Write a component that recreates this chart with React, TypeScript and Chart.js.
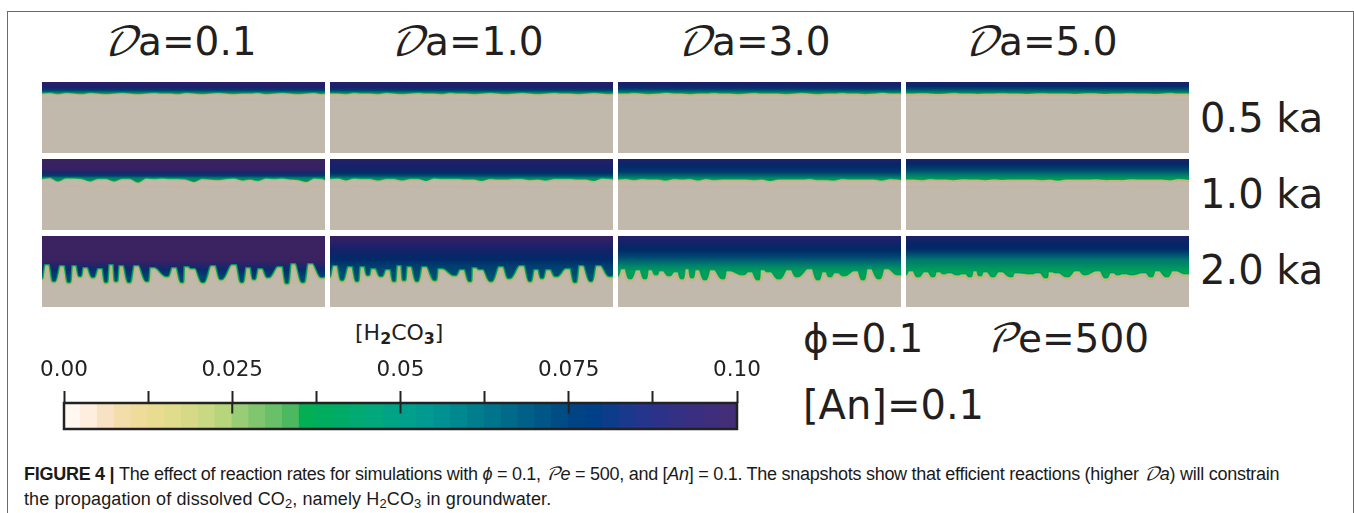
import React, { useEffect, useRef } from "react";
import { Chart, registerables } from "chart.js";

Chart.register(...registerables);

// ---------- front depth profiles (depth below panel top) ----------
const earlyX = [0,8,16,24,32,40,48,56,64,72,80,88,96,104,112,120,128,136,144,152,160,168,176,184,192,200,208,216,224,232,240,248,256,264,272,280,283];

const front05Da01 = [10.5,10,11,10,10.5,11,10,10.5,11,10.5,10,10.5,11,10.5,10,10.5,10.5,11,10,10.5,11,10.5,10,10.5,11,10.5,10.5,10,11,10.5,10,10.5,11,10.5,10,11,10.5];
const front05Da10 = [10.5,10.5,11,10,10.5,10.5,11,10,10.5,11,10.5,10,10.5,10.5,11,10,10.5,10.5,11,10.5,10,10.5,11,10.5,10,10.5,11,10.5,10,10.5,10.5,11,10.5,10,10.5,11,10.5];
const front05Da30 = [10.5,10.5,10,10.5,11,10.5,9.8,10.5,10.5,11,10.5,10.5,10,10.5,10.5,11,10.5,10,10.5,10.5,10.5,11,10.5,10,10.5,11,10.5,10.5,10,10.5,10.5,11,10.5,9.8,10.5,10.5,10.5];
const front05Da50 = [10.5,10.5,10.2,10.5,10.8,10.5,10,10.5,10.5,10.8,10.5,10.5,10.2,10.5,10.5,10.8,10.5,10.2,10.5,10.5,10.5,10.8,10.5,10.2,10.5,10.8,10.5,10.5,10.2,10.5,10.5,10.8,10.5,10,10.5,10.5,10.5];

const front10Da01 = [19,18,21.5,18.5,18.5,19,21.5,19,19,21.5,19,19,22.5,18.5,19,18.5,19,19,19.5,22,19,19.5,20,19,18.5,20.5,19.5,21,18.5,19,18.5,19.5,20,22,18.5,19,20];
const front10Da10 = [19,18.5,20.5,18.5,19,19,20.5,19,19,20.5,19,19,21,18.5,19,19,19,19.5,19.5,21,19,19.5,19.5,19,19,20,19.5,20.5,19,19,19,19.5,19.5,21,18.5,19,19.5];
const front10Da30 = [19.5,19,20,19,19.5,19.5,20.5,19,19.5,19,20.5,19,20,19.5,19.5,19.5,19.5,20,19.5,21,19.5,19.5,19.5,19.5,19,20,20,20.5,19,19.5,19.5,19.5,19.5,20.5,19,19.5,20];
const front10Da50 = [19.5,19.5,20,19,19.5,19.5,20,19.2,19.5,19.5,20,19.2,19.8,19.5,19.5,19.5,19.5,20,19.5,20.5,19.5,19.5,19.5,19.5,19.3,20,19.8,20,19.2,19.5,19.5,19.5,19.5,20.2,19,19.5,19.8];

const lateX = [0,2.5,7.5,11,13,17.5,22.5,26,28,29.5,34.5,37,39,40.5,45.5,50,52,55.5,60.5,63,65,66.5,71.5,73,75,76.5,81.5,86,88,91.5,96.5,104,106,107.5,112.5,124,126,129.5,134.5,139,141,141.5,146.5,149,153,160,162,168.5,173.5,178,180,189.5,194.5,199,201,203.5,208.5,211,213,215.5,220.5,225,227,235.5,240.5,244,246,248.5,253.5,260,262,265.5,270.5,279,281,283];

const front20Da01 = [42,28,28,45,45,29,29,46,46,29,29,40,40,31,31,41,41,32,32,46,46,28,28,45,45,29,29,46,46,29,29,45,45,31,31,40,40,31,31,46,46,30,30,32,32,46,46,29,29,43,43,28,28,46,46,31,31,43,43,32,32,41,41,30,30,47,47,27,27,46,46,27,27,41,41,40];
const front20Da10 = [40,29,29,44,44,30,30,45,45,30,30,39,39,32,32,40,40,33,33,45,45,29,29,44,44,30,30,45,45,30,30,44,44,32,32,39,39,33,33,45,45,31,31,33,33,45,45,30,30,42,42,29,29,45,45,33,33,42,42,33,33,40,40,32,32,46,46,29,29,45,45,29,29,40,40,39];
const front20Da30 = [39,32,32,42,42,33,33,42,42,33,33,38,38,34,34,39,39,35,35,42,42,32,32,41,41,33,33,43,43,33,33,42,42,34,34,38,38,35,35,43,43,33,33,35,35,42,42,33,33,40,40,32,32,43,43,35,35,40,40,36,36,39,39,34,34,43,43,32,32,42,42,32,32,38,38,38];
const front20Da50 = [38,34,34,40,40,35,35,40,40,35,35,37,37,36,36,38,38,37,37,40,40,34,34,39,39,35,35,40,40,35,35,40,40,36,36,37,37,36,36,41,41,35,35,36,36,40,40,34,34,38,38,34,34,41,41,36,36,38,38,37,37,38,38,36,36,40,40,34,34,40,40,34,34,37,37,37];

// ---------- colorbar ----------
const cbarValues = [0.00125,0.00375,0.00625,0.00875,0.01125,0.01375,0.01625,0.01875,0.02125,0.02375,0.02625,0.02875,0.03125,0.03375,0.03625,0.03875,0.04125,0.04375,0.04625,0.04875,0.05125,0.05375,0.05625,0.05875,0.06125,0.06375,0.06625,0.06875,0.07125,0.07375,0.07625,0.07875,0.08125,0.08375,0.08625,0.08875,0.09125,0.09375,0.09625,0.09875];
const cbarColors = ["#fff8f0","#fdeedd","#f8e2c4","#f3deab","#efdc9b","#e7dc90","#dfdc8b","#d6da86","#c9d882","#b7d67c","#98cd75","#7fc66e","#68c068","#4cb960","#04ae55","#00ac5e","#00ab68","#00aa72","#00a87c","#00a484","#00a08c","#009a90","#009292","#008890","#007e8e","#00748c","#006a8a","#006088","#005686","#004c85","#004486","#004088","#0b3d8b","#1a398c","#24358b","#2c3288","#343084","#3a2e80","#3f2e7c","#432f78"];
const cbarTickLabels = ["0.00","0.025","0.05","0.075","0.10"];
const cbarLongTicks = [0.025,0.05,0.075];

const daLabels = ["0.1","1.0","3.0","5.0"];
const timeLabels = ["0.5 ka","1.0 ka","2.0 ka"];

// ---------- panel styles ----------
type Stop = [number, string];
const colX = [42,330,618,906];
const rowY = [82,159,236];
const PW = 283, PH = 71;
const BEIGE = "#c0b9ac";

const bodyStops: Stop[][][] = [
  [
    [[0,"#2b1f68"],[5,"#1f206a"],[8,"#003a70"],[10,"#006f72"],[11.5,"#00905f"]],
    [[0,"#251f6a"],[5,"#1c206a"],[8,"#003a70"],[10,"#006f72"],[11.5,"#00905f"]],
    [[0,"#1e1f6a"],[4,"#12256a"],[7,"#003a70"],[10,"#007a6c"],[11.5,"#00905f"]],
    [[0,"#1c206a"],[4,"#07286a"],[7,"#004670"],[10,"#008066"],[11.5,"#00955c"]],
  ],
  [
    [[0,"#3a2260"],[10,"#342163"],[14,"#1a2569"],[17,"#004070"],[19,"#008068"],[22,"#00905f"]],
    [[0,"#241f6a"],[9,"#14226a"],[14,"#002e68"],[17,"#005070"],[19,"#008568"],[22,"#00905f"]],
    [[0,"#1e1f6a"],[7,"#042868"],[13,"#003a6c"],[17,"#006a70"],[19.5,"#00905f"]],
    [[0,"#1d206a"],[5,"#032866"],[11,"#004670"],[16,"#007a68"],[19.5,"#009a5a"]],
  ],
  [
    [[0,"#3b2160"],[24,"#3a2260"],[28,"#2a2368"],[34,"#0a2c6c"],[40,"#004070"],[47,"#004a70"]],
    [[0,"#38205f"],[7,"#27206a"],[14,"#142268"],[24,"#002c68"],[30,"#003e70"],[47,"#005a70"]],
    [[0,"#241f6b"],[8,"#0f2469"],[14,"#002a66"],[20,"#004270"],[26,"#006a70"],[31,"#008a66"],[36,"#00a05a"]],
    [[0,"#1f2068"],[8,"#072566"],[13,"#002a66"],[20,"#005a72"],[24,"#007a6c"],[30,"#008f62"],[36,"#00a558"]],
  ],
];
const rimScale = [0.85, 0.95, 1.1, 1.3];

const panelFronts = [
  [front05Da01, front05Da10, front05Da30, front05Da50],
  [front10Da01, front10Da10, front10Da30, front10Da50],
  [front20Da01, front20Da10, front20Da30, front20Da50],
];
const faintOffset = [7.5, 8.5, 0];

function Panel({ row, col }: { row: number; col: number }) {
  const ref = useRef<HTMLCanvasElement | null>(null);
  useEffect(() => {
    const canvas = ref.current!;
    const depths = panelFronts[row][col];
    const xs = row === 2 ? lateX : earlyX;
    const pts = xs.map((x, i) => ({ x, y: depths[i] }));
    const ctx = canvas.getContext("2d")!;
    const grad = ctx.createLinearGradient(0, 0, 0, PH);
    bodyStops[row][col].forEach(([d, c]) => grad.addColorStop(Math.min(1, d / PH), c));
    const s = rimScale[col] * (row === 2 ? 1 : 0.8);
    const g = row === 2 ? 3.2 : 2.4;
    const base = { pointRadius: 0, cubicInterpolationMode: "monotone" as const, borderJoinStyle: "round" as const, borderCapStyle: "round" as const };
    const datasets: any[] = [
      { ...base, data: pts, fill: { value: 0 }, backgroundColor: () => grad, borderWidth: 0 },
      { ...base, data: pts, fill: false, borderColor: "#00906c", borderWidth: g * 0.5 },
      { ...base, data: pts, fill: false, borderColor: "#14ae5c", borderWidth: g },
      { ...base, data: pts, fill: false, borderColor: "#c4c27c", borderWidth: g + 1.2 * s },
      { ...base, data: pts, fill: false, borderColor: "#cdb07c", borderWidth: g + 3.4 * s },
    ];
    if (faintOffset[row] > 0) {
      datasets.push({
        ...base,
        data: pts.map((p) => ({ x: p.x, y: p.y + faintOffset[row] })),
        fill: false,
        borderColor: "rgba(205,178,150,0.35)",
        borderWidth: 1.5,
      });
    }
    const chart = new Chart(canvas, {
      type: "line",
      data: { datasets },
      options: {
        animation: false,
        responsive: false,
        layout: { padding: 0 },
        plugins: { legend: { display: false }, tooltip: { enabled: false } },
        scales: {
          x: { type: "linear", display: false, min: 0, max: 283 },
          y: { type: "linear", display: false, min: 0, max: 71, reverse: true },
        },
      },
    });
    return () => chart.destroy();
  }, [row, col]);
  return (
    <canvas
      ref={ref}
      width={PW}
      height={PH}
      style={{ position: "absolute", left: colX[col], top: rowY[row], width: PW, height: PH, background: BEIGE, filter: "blur(0.55px)" }}
    />
  );
}

function ColorBar() {
  const ref = useRef<HTMLCanvasElement | null>(null);
  useEffect(() => {
    const frame = {
      id: "frame",
      afterDatasetsDraw(c: any) {
        const { left, top, width, height } = c.chartArea;
        c.ctx.save();
        c.ctx.strokeStyle = "#222";
        c.ctx.lineWidth = 2.5;
        c.ctx.strokeRect(left, top, width, height);
        c.ctx.restore();
      },
    };
    const longTickPts: any[] = [];
    cbarLongTicks.forEach((v) => {
      longTickPts.push({ x: v, y: 1 }, { x: v, y: 0.6 }, { x: v, y: null });
    });
    const chart = new Chart(ref.current!, {
      type: "bar",
      data: {
        datasets: [
          { type: "line", data: longTickPts, borderColor: "#222", borderWidth: 2, pointRadius: 0, spanGaps: false, fill: false, order: 0 } as any,
          {
            data: cbarValues.map((x) => ({ x, y: 1 })) as any,
            backgroundColor: cbarColors,
            borderWidth: 0,
            barThickness: 17.6,
            order: 1,
          },
        ],
      },
      options: {
        animation: false,
        responsive: false,
        layout: { padding: { left: 40, right: 40, top: 0, bottom: 4 } },
        plugins: { legend: { display: false }, tooltip: { enabled: false } },
        scales: {
          x: {
            type: "linear",
            position: "top",
            offset: false,
            min: 0,
            max: 0.1,
            afterFit: (s: any) => { s.height = 53; },
            grid: { offset: false, drawOnChartArea: false, tickLength: 12, tickWidth: 2, tickColor: "#222", drawTicks: true },
            border: { display: false },
            ticks: {
              stepSize: 0.0125,
              autoSkip: false,
              maxRotation: 0,
              padding: 8,
              color: "#222",
              font: { family: "'DejaVu Sans'", size: 21.5 },
              callback: (_v: any, i: number) => (i % 2 === 0 ? cbarTickLabels[i / 2] : ""),
            },
          },
          y: { type: "linear", display: false, min: 0, max: 1 },
        },
      },
      plugins: [frame],
    });
    return () => chart.destroy();
  }, []);
  return <canvas ref={ref} width={753} height={83} style={{ position: "absolute", left: 24, top: 350, width: 753, height: 83 }} />;
}

const SCRIPT = "'DejaVu Math TeX Gyre','Noto Sans Math','STIX Two Math','Liberation Serif',serif";

function T({ x, base, size, children, font, color, spacing, weight }: any) {
  return (
    <div
      style={{
        position: "absolute",
        left: x,
        top: base - 0.846 * size,
        fontSize: size,
        lineHeight: 1 + "",
        whiteSpace: "nowrap",
        fontFamily: font || "'DejaVu Sans'",
        color: color || "#231f20",
        letterSpacing: spacing,
        fontWeight: weight,
      }}
    >
      {children}
    </div>
  );
}
const Scr = ({ c }: { c: string }) => <span style={{ fontFamily: SCRIPT, fontStyle: "italic" }}>{c}</span>;
const Sub = ({ c, bold }: { c: string; bold?: boolean }) => (
  <span style={{ fontSize: "0.72em", position: "relative", top: "0.22em", lineHeight: 0, fontWeight: bold ? 700 : 400 }}>{c}</span>
);

const CAP = "'Liberation Sans'";

export default function App() {
  const titleX = [102, 389, 676, 963];
  const timeY = [132, 208, 284];
  return (
    <div style={{ position: "absolute", left: 0, top: 0, width: 1354, height: 513, overflow: "hidden", background: "#fff" }}>
      <div style={{ position: "absolute", left: 7, top: 11, width: 1345, height: 520, border: "1px solid #6b6b6b", boxSizing: "content-box" }} />
      {daLabels.map((d, i) => (
        <T key={d} x={titleX[i]} base={55} size={39}>
          <Scr c="𝒟" />a={d}
        </T>
      ))}
      {rowY.map((_, r) => colX.map((_, c) => <Panel key={r + "-" + c} row={r} col={c} />))}
      {timeLabels.map((t, i) => (
        <T key={t} x={1200} base={timeY[i]} size={40}>
          {t}
        </T>
      ))}
      <T x={355} base={341} size={22}>
        [H<Sub c="2" bold />CO<Sub c="3" bold />]
      </T>
      <ColorBar />
      <T x={803} base={352} size={39}>ϕ=0.1</T>
      <T x={985} base={352} size={39}>
        <Scr c="𝒫" />e=500
      </T>
      <T x={803} base={419} size={40}>[An]=0.1</T>
      <T x={24} base={480} size={18} font={CAP} spacing="-0.27px" color="#1a1a1a">
        <b>FIGURE 4 | </b>The effect of reaction rates for simulations with <i>ϕ</i> = 0.1, <Scr c="𝒫" /><i>e</i> = 500, and [<i>An</i>] = 0.1. The snapshots show that efficient reactions (higher <Scr c="𝒟" /><i>a</i>) will constrain
      </T>
      <T x={24} base={505} size={18} font={CAP} spacing="0.12px" color="#1a1a1a">
        the propagation of dissolved CO<Sub c="2" />, namely H<Sub c="2" />CO<Sub c="3" /> in groundwater.
      </T>
    </div>
  );
}
